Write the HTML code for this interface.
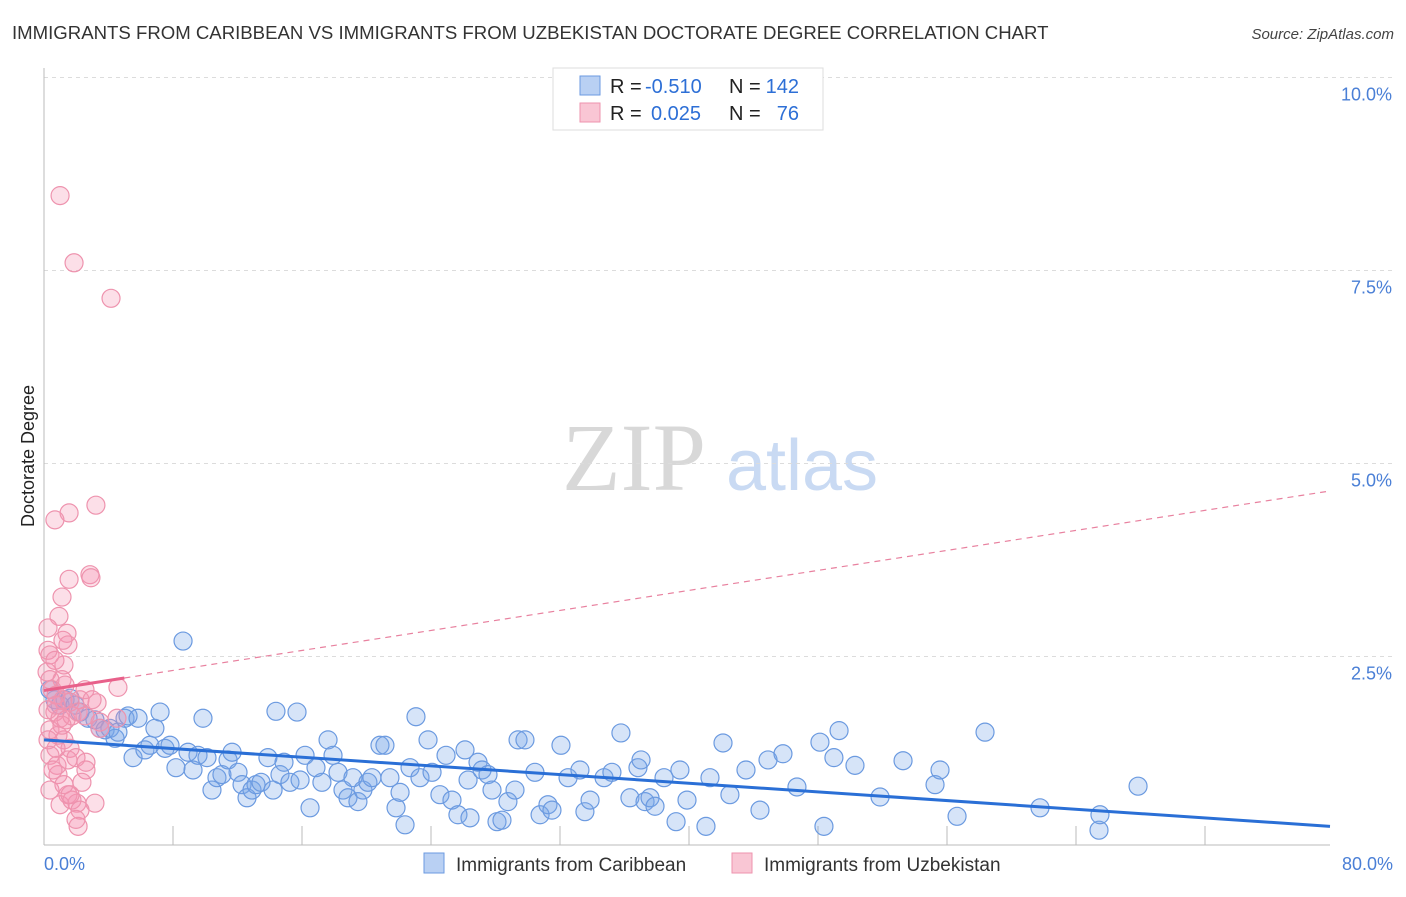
<!DOCTYPE html>
<html><head><meta charset="utf-8"><style>
body{margin:0;background:#fff;font-family:"Liberation Sans",sans-serif}
svg text{font-family:"Liberation Sans",sans-serif}
</style></head><body>
<svg id="chart" width="1406" height="892" viewBox="0 0 1406 892" xmlns="http://www.w3.org/2000/svg">
<text x="12" y="39" font-size="18.6" fill="#333">IMMIGRANTS FROM CARIBBEAN VS IMMIGRANTS FROM UZBEKISTAN DOCTORATE DEGREE CORRELATION CHART</text>
<text x="1394" y="39" font-size="15" fill="#444" font-style="italic" text-anchor="end">Source: ZipAtlas.com</text>
<g>
<text x="634" y="490" font-size="96" fill="#d8d8d8" text-anchor="middle" style="font-family:'Liberation Serif',serif">ZIP</text>
<text x="802" y="490" font-size="72" fill="#c9daf3" text-anchor="middle">atlas</text>
</g>
<g id="grid"></g>
<g id="axes"></g>
<g id="pts"></g>
<g id="trend"></g>
<text transform="translate(34,456) rotate(-90)" font-size="18" fill="#222" text-anchor="middle">Doctorate Degree</text>
<text x="44" y="870" font-size="18" fill="#4a7fd6">0.0%</text>
<text x="1393" y="870" font-size="18" fill="#4a7fd6" text-anchor="end">80.0%</text>
<g>
<rect x="553" y="68" width="270" height="62" fill="#fff" stroke="#ddd"/>
<rect x="580" y="76" width="20" height="19" fill="#b9d0f3" stroke="#6b9ae0"/>
<text x="610" y="93" font-size="20" fill="#222">R =</text>
<text x="645" y="93" font-size="20" fill="#2d6fd6">-0.510</text>
<text x="729" y="93" font-size="20" fill="#222">N =</text>
<text x="799" y="93" font-size="20" fill="#2d6fd6" text-anchor="end">142</text>
<rect x="580" y="103" width="20" height="19" fill="#f9c6d4" stroke="#ee93ae"/>
<text x="610" y="120" font-size="20" fill="#222">R =</text>
<text x="651" y="120" font-size="20" fill="#2d6fd6">0.025</text>
<text x="729" y="120" font-size="20" fill="#222">N =</text>
<text x="799" y="120" font-size="20" fill="#2d6fd6" text-anchor="end">76</text>
</g>
<g>
<rect x="424" y="853" width="20" height="20" fill="#b9d0f3" stroke="#6b9ae0"/>
<text x="456" y="871" font-size="19" fill="#333">Immigrants from Caribbean</text>
</g>
<g>
<rect x="732" y="853" width="20" height="20" fill="#f9c6d4" stroke="#ee93ae"/>
<text x="764" y="871" font-size="19" fill="#333">Immigrants from Uzbekistan</text>
</g>
</svg>
<script>
const yTicks=[2.5,5.0,7.5,10.0];
const yTickLabels=["2.5%","5.0%","7.5%","10.0%"];
const blueX=[0.37,0.68,1.0,1.31,1.62,1.93,2.24,2.74,3.17,3.48,3.8,4.1,4.42,4.6,5.04,5.23,5.54,5.85,6.28,6.59,6.9,7.22,7.53,7.84,8.21,8.65,8.96,9.27,9.58,9.89,10.14,10.45,10.76,11.07,11.45,11.7,12.07,12.32,12.63,12.94,13.19,13.5,13.93,14.25,14.43,14.68,14.93,15.3,15.74,15.93,16.24,16.55,16.92,17.29,17.67,17.98,18.29,18.6,18.91,19.22,19.53,19.84,20.15,20.4,20.9,21.21,21.52,21.9,22.15,22.46,22.77,23.14,23.39,23.89,24.14,24.63,25.01,25.38,25.75,26.19,26.38,26.5,27.0,27.25,27.62,27.87,28.18,28.49,28.86,29.3,29.49,29.92,30.54,30.86,31.35,31.6,32.16,32.6,33.34,33.65,33.97,34.84,35.33,35.89,36.45,36.95,37.14,37.39,37.7,38.01,38.57,39.32,39.56,40.0,41.18,41.43,42.24,42.67,43.67,44.54,45.04,45.97,46.84,48.27,48.52,49.14,49.46,50.45,52.01,53.44,55.43,55.74,56.8,58.54,61.96,65.63,65.69,68.06];
const blueY=[2.07,1.94,1.87,1.94,1.96,1.87,1.78,1.70,1.68,1.57,1.55,1.57,1.44,1.52,1.70,1.73,1.19,1.70,1.29,1.35,1.57,1.78,1.31,1.35,1.06,2.70,1.26,1.03,1.22,1.70,1.19,0.77,0.93,0.97,1.16,1.26,1.0,0.84,0.67,0.77,0.84,0.87,1.19,0.77,1.79,0.97,1.13,0.87,1.78,0.9,1.22,0.54,1.06,0.87,1.42,1.22,1.0,0.77,0.67,0.93,0.62,0.77,0.87,0.93,1.35,1.35,0.93,0.54,0.74,0.32,1.06,1.72,0.93,1.42,1.0,0.71,1.22,0.64,0.45,1.29,0.9,0.41,1.13,1.03,0.97,0.77,0.36,0.38,0.62,0.77,1.42,1.42,1.0,0.45,0.58,0.51,1.35,0.93,1.03,0.49,0.64,0.93,1.0,1.51,0.67,1.06,1.16,0.62,0.67,0.56,0.93,0.36,1.03,0.64,0.30,0.93,1.38,0.71,1.03,0.51,1.16,1.24,0.81,1.39,0.30,1.19,1.54,1.09,0.68,1.15,0.84,1.03,0.43,1.52,0.54,0.25,0.45,0.82];
const pinkX=[1.0,1.87,4.17,3.23,1.56,0.68,1.56,2.86,2.92,1.12,0.93,0.25,0.25,0.37,1.43,1.49,1.18,1.24,0.19,0.37,1.12,4.6,0.5,0.75,1.18,1.62,2.24,3.3,0.25,0.68,1.0,1.37,1.74,2.12,2.55,3.48,4.54,0.37,0.87,1.24,1.62,0.75,0.37,0.81,1.49,1.99,2.61,0.87,0.37,2.61,1.49,2.05,3.17,1.0,1.74,2.24,2.12,1.99,0.68,1.31,2.55,2.99,0.75,1.12,3.48,0.25,0.56,1.24,1.62,2.36];
const pinkY=[8.47,7.6,7.14,4.46,4.36,4.27,3.5,3.56,3.52,3.27,3.02,2.87,2.58,2.52,2.8,2.65,2.71,2.39,2.3,2.2,2.2,2.1,2.07,2.0,1.94,1.91,1.94,1.9,1.81,1.78,1.7,1.68,1.73,1.78,1.73,1.65,1.7,1.55,1.48,1.42,1.31,1.31,1.22,1.09,1.16,1.19,1.13,0.97,0.77,1.03,0.71,0.6,0.6,0.58,0.64,0.51,0.3,0.39,2.45,2.13,2.07,1.94,1.87,1.61,1.57,1.42,1.03,0.84,0.71,0.87];
const blueTrend=[1.42,-0.014];
const pinkTrend=[2.06,0.0323];
const pinkSolidEnd=5;
const xMax=80;

const NS="http://www.w3.org/2000/svg";
const X0=44,X1=1330,Y0=849.5,YS=77.2;
const xs=v=>X0+v*(X1-X0)/xMax;
const ys=v=>Y0-v*YS;
function mk(tag,attrs,parent){const e=document.createElementNS(NS,tag);for(const k in attrs)e.setAttribute(k,attrs[k]);parent.appendChild(e);return e;}
const gridG=document.getElementById('grid'),axesG=document.getElementById('axes'),ptsG=document.getElementById('pts'),trG=document.getElementById('trend');
yTicks.forEach((t,i)=>{
 const l=mk('line',{x1:X0,x2:1395,y1:ys(t),y2:ys(t),stroke:'#dcdcdc','stroke-dasharray':'4,4'},gridG);
 
 
 const tx=mk('text',{x:1392,y:ys(t)+23,'font-size':18,fill:'#4a7fd6','text-anchor':'end'},gridG);
 tx.textContent=yTickLabels[i];
 
 
});
const ya=mk('line',{x1:X0,x2:X0,y1:68,y2:845,stroke:'#bbb'},axesG);


const xa=mk('line',{x1:X0,x2:1330,y1:845,y2:845,stroke:'#bbb'},axesG);


for(let k=1;k<=9;k++){
 const t=mk('line',{x1:X0+129*k,x2:X0+129*k,y1:826,y2:845,stroke:'#bbb'},axesG);
 
 
}
blueX.forEach((v,i)=>{
 const c=mk('circle',{cx:xs(v),cy:ys(blueY[i]),r:9,fill:'rgba(120,165,232,0.3)',stroke:'#6b9ae0','stroke-width':1.2},ptsG);
 
 
});
pinkX.forEach((v,i)=>{
 const c=mk('circle',{cx:xs(v),cy:ys(pinkY[i]),r:9,fill:'rgba(244,150,178,0.3)',stroke:'#ee93ae','stroke-width':1.2},ptsG);
 
 
});
const bl=mk('line',{x1:xs(0),y1:ys(blueTrend[0]),x2:xs(xMax),y2:ys(blueTrend[0]+blueTrend[1]*xMax),stroke:'#2a6fd6','stroke-width':3},trG);


const pd=mk('line',{x1:xs(pinkSolidEnd),y1:ys(pinkTrend[0]+pinkTrend[1]*pinkSolidEnd),x2:xs(xMax),y2:ys(pinkTrend[0]+pinkTrend[1]*xMax),stroke:'#e8819f','stroke-width':1.2,'stroke-dasharray':'6,5'},trG);


const ps=mk('line',{x1:xs(0),y1:ys(pinkTrend[0]),x2:xs(pinkSolidEnd),y2:ys(pinkTrend[0]+pinkTrend[1]*pinkSolidEnd),stroke:'#e8608a','stroke-width':3},trG);


const topGrid=mk('line',{x1:X0,x2:1395,y1:ys(10),y2:ys(10),stroke:'#dcdcdc','stroke-dasharray':'4,4'},gridG);
</script>
</body></html>
